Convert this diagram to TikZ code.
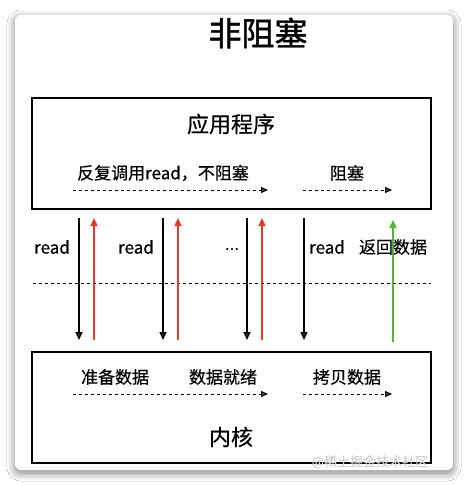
\documentclass[tikz,border=0pt]{standalone}
\usepackage{fontspec}
\setmainfont{Noto Sans CJK SC}[FakeBold=0.4]
\newfontfamily\titlefont{Noto Sans CJK SC}[FakeBold=1.3]
\usetikzlibrary{arrows.meta,shadows.blur}
\definecolor{retred}{RGB}{222,62,38}
\definecolor{retgreen}{RGB}{86,178,58}

\begin{document}
\begin{tikzpicture}[x=1pt,y=-1pt]

		\tikzstyle{every node}=[font=\fontsize{17}{17}\selectfont, inner sep=0pt]
		\tikzstyle{layer}=[draw, line width=1.8pt, minimum width=399pt, minimum height=111pt]
		\tikzstyle{call}=[line width=1.5pt, -{Triangle[length=8pt,width=7pt]}]
		\tikzstyle{stage}=[line width=0.9pt, dash pattern=on 3pt off 3pt, -{Triangle[length=7pt,width=6pt]}]
		
		\useasboundingbox (0,0) rectangle (468,486);
		\fill[white] (0,0) rectangle (468,486);
		\path[fill=white, rounded corners=6pt, blur shadow={shadow blur steps=12, shadow xshift=0pt, shadow yshift=-3pt, shadow blur radius=8pt, shadow opacity=50}] (15,15) rectangle (453,470);
		
		\node[font=\titlefont\fontsize{33}{33}\selectfont] (title) at (258,33) {非阻塞};
		
		% user space
		\node[layer] (app) at (231.5,153.5) {};
		\node[font=\fontsize{22}{22}\selectfont] (appname) at (231,124) {应用程序};
		\node (poll) at (163,173) {反复调用read，不阻塞};
		\node (wait) at (347,173) {阻塞};
		\coordinate (polla) at (73,190);
		\coordinate (pollb) at (268,190);
		\coordinate (waita) at (303,190);
		\coordinate (waitb) at (392,190);
		\draw[stage] (polla) -- (pollb);
		\draw[stage] (waita) -- (waitb);
		
		% kernel
		\node[layer] (kern) at (231.5,407.5) {};
		\node (prep) at (115,377) {准备数据};
		\node (ready) at (223,377) {数据就绪};
		\node (copy) at (347,377) {拷贝数据};
		\node[font=\fontsize{22}{22}\selectfont] (kernname) at (231,437) {内核};
		\coordinate (prepa) at (73,394);
		\coordinate (prepb) at (268,394);
		\coordinate (copya) at (303,394);
		\coordinate (copyb) at (392,394);
		\draw[stage] (prepa) -- (prepb);
		\draw[stage] (copya) -- (copyb);
		
		% boundary
		\coordinate (sepa) at (33,283);
		\coordinate (sepb) at (431,283);
		\draw[line width=0.9pt, dash pattern=on 3pt off 3pt] (sepa) -- (sepb);
		
		% system calls
		\foreach \x [count=\i] in {79,163,247,304} {
			\coordinate (dn\i a) at (\x,218);
			\coordinate (dn\i b) at (\x,340);
			\draw[call] (dn\i a) -- (dn\i b);
		}
		\foreach \x [count=\i] in {94,178,262} {
			\coordinate (up\i a) at (\x,340);
			\coordinate (up\i b) at (\x,218);
			\draw[call, retred] (up\i a) -- (up\i b);
		}
		\coordinate (donea) at (393,342);
		\coordinate (doneb) at (393,220);
		\draw[call, retgreen] (donea) -- (doneb);
		
		\node (read1) at (52,247) {read};
		\node (read2) at (136,247) {read};
		\node (more) at (232,249) {...};
		\node (read3) at (327,247) {read};
		\node (back) at (393,247) {返回数据};
		
		\node[font=\fontsize{13}{13}\selectfont, text=gray!35] (mark) at (370,462) {@稀土掘金技术社区};
		
\end{tikzpicture}
\end{document}
